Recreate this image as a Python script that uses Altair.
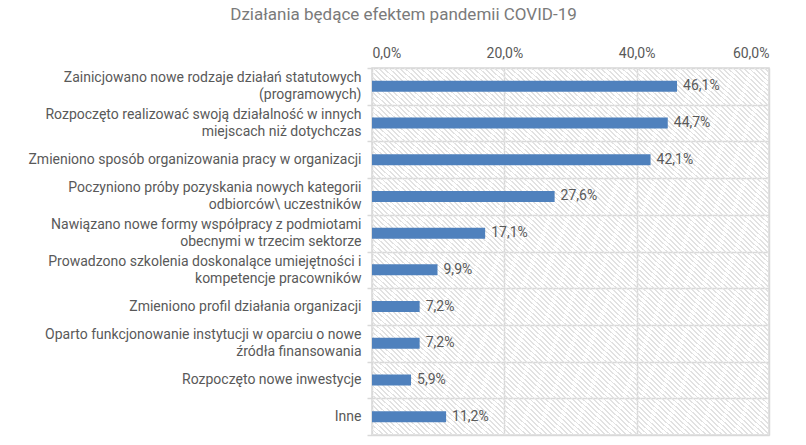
import altair as alt
import pandas as pd

categories = [
    "Zainicjowano nowe rodzaje działań statutowych|(programowych)",
    "Rozpoczęto realizować swoją działalność w innych|miejscach niż dotychczas",
    "Zmieniono sposób organizowania pracy w organizacji",
    "Poczyniono próby pozyskania nowych kategorii|odbiorców\\ uczestników",
    "Nawiązano nowe formy współpracy z podmiotami|obecnymi w trzecim sektorze",
    "Prowadzono szkolenia doskonalące umiejętności i|kompetencje pracowników",
    "Zmieniono profil działania organizacji",
    "Oparto funkcjonowanie instytucji w oparciu o nowe|źródła finansowania",
    "Rozpoczęto nowe inwestycje",
    "Inne",
]
values = [46.1, 44.7, 42.1, 27.6, 17.1, 9.9, 7.2, 7.2, 5.9, 11.2]
x_ticks = [0, 20, 40, 60]
title_text = "Działania będące efektem pandemii COVID-19"

df = pd.DataFrame({"cat": categories, "val": values})

FONT = "Roboto"
GRAY = "#595959"
GRID = "#d9d9d9"

# hatch pattern approximated with a striped linear gradient
n_stripes = 150
stops = []
for i in range(n_stripes):
    a = i / n_stripes
    b = (i + 0.35) / n_stripes
    c = (i + 1) / n_stripes
    stops.append(alt.GradientStop(offset=a, color="#e2e2e2"))
    stops.append(alt.GradientStop(offset=b, color="#e2e2e2"))
    stops.append(alt.GradientStop(offset=b, color="rgba(255,255,255,0)"))
    stops.append(alt.GradientStop(offset=c, color="rgba(255,255,255,0)"))
hatch = alt.LinearGradient(gradient="linear", x1=0, y1=1, x2=1, y2=0, stops=stops)

xscale = alt.Scale(domain=[0, 60], nice=False)
yscale = alt.Scale(paddingInner=0, paddingOuter=0)

base = alt.Chart(df)

bg = alt.Chart(pd.DataFrame({"a": [x_ticks[0]], "b": [x_ticks[-1]]})).mark_rect(
    fill=hatch
).encode(
    x=alt.X("a:Q", scale=xscale),
    x2="b:Q",
)

# two-line labels become [line1, spacer, line2]; one-line labels become [spacer, label]
SP = "\u200b"  # zero-width space (not trimmed, keeps the half-line spacing)
label_expr = (
    "indexof(datum.label, '|') >= 0 ? "
    f"[split(datum.label, '|')[0], '{SP}', split(datum.label, '|')[1]] : "
    f"['{SP}', datum.label]"
)

bars = base.mark_bar(color="#4F81BD", size=11).encode(
    x=alt.X(
        "val:Q",
        scale=xscale,
        axis=alt.Axis(
            orient="top",
            values=x_ticks,
            labelExpr="replace(format(datum.value, '.1f'), '.', ',') + '%'",
            title=None,
            grid=True,
            gridColor=GRID,
            gridWidth=1.5,
            domain=False,
            ticks=False,
            labelColor=GRAY,
            labelFont=FONT,
            labelFontSize=14,
            labelPadding=8,
        ),
    ),
    y=alt.Y(
        "cat:N",
        sort=None,
        scale=yscale,
        axis=alt.Axis(
            title=None,
            labelExpr=label_expr,
            labelColor=GRAY,
            labelFont=FONT,
            labelFontSize=14,
            labelLineHeight=8.5,
            labelOffset=-8.5,
            labelLimit=400,
            labelPadding=6,
            tickBand="extent",
            grid=True,
            gridColor=GRID,
            gridWidth=1.5,
            tickColor=GRID,
            tickSize=5,
            tickWidth=1.5,
            domain=False,
        ),
    ),
)

text = base.transform_calculate(
    lbl="replace(format(datum.val, '.1f'), '.', ',') + '%'"
).mark_text(
    align="left", dx=6, font=FONT, fontSize=14, color=GRAY
).encode(
    x=alt.X("val:Q", scale=xscale),
    y=alt.Y("cat:N", sort=None, scale=yscale),
    text="lbl:N",
)

chart = alt.layer(bg, bars, text).properties(
    width=397,
    height=367,
    padding={"left": 372, "top": 68, "right": 37, "bottom": 10},
    autosize=alt.AutoSizeParams(type="none"),
    title=alt.TitleParams(
        text=title_text,
        anchor="middle",
        dx=-167,
        offset=22,
        font=FONT,
        fontSize=17,
        fontWeight="normal",
        color="#7a7a7a",
    ),
).configure_view(stroke=GRID, strokeWidth=1.5)

chart.save("out.html", embed_options={"renderer": "svg", "actions": False})
